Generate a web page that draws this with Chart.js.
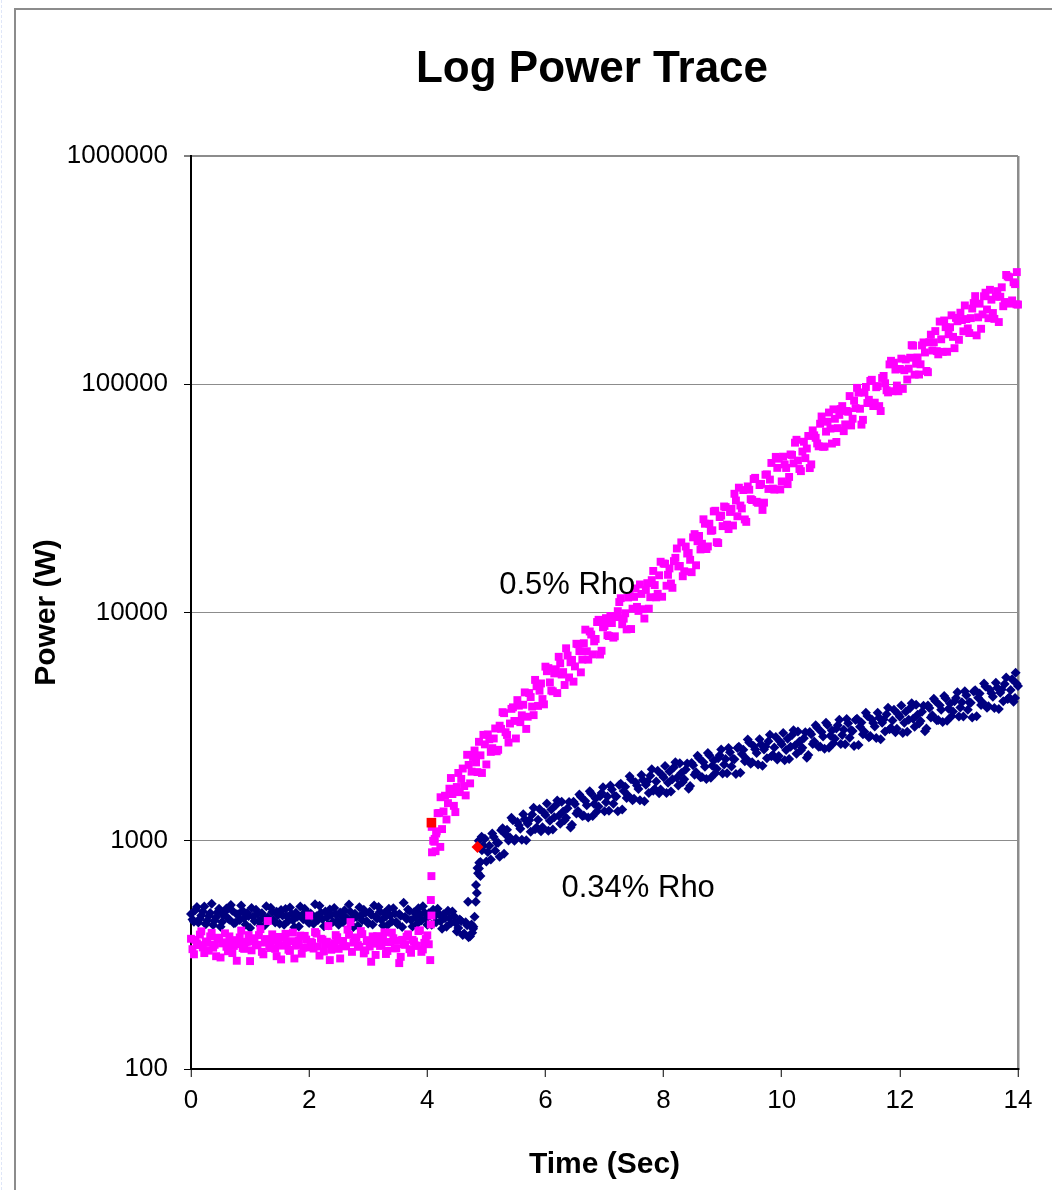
<!DOCTYPE html>
<html><head><meta charset="utf-8">
<script src="https://cdn.jsdelivr.net/npm/chart.js@4.4.1/dist/chart.umd.min.js"></script>
<style>
html,body{margin:0;padding:0;background:#fff;}
#wrap{position:relative;width:1052px;height:1190px;overflow:hidden;background:#fff;}
#frame{position:absolute;left:14px;top:8px;width:1100px;height:1300px;border-left:2px solid #8c8c8c;border-top:2px solid #8c8c8c;}
#guide{position:absolute;left:1px;top:0;height:1190px;border-left:1px dashed #dfe6f8;}
#c{position:absolute;left:0;top:0;}
</style></head><body>
<div id="wrap"><div id="guide"></div><div id="frame"></div><canvas id="c" width="1052" height="1190"></canvas></div>
<script>
const chartTitle = 'Log Power Trace';
const xTitle = 'Time (Sec)';
const yTitle = 'Power (W)';
const xTicks = [0, 2, 4, 6, 8, 10, 12, 14];
const yTicks = [100, 1000, 10000, 100000, 1000000];
const seriesNames = ['0.5% Rho', '0.34% Rho'];
const labelTime = [6.37, 7.57];
const labelPower = [13200, 615];

// sample times, pass A
const times = [
0,0.05,0.1,0.15,0.2,0.25,0.3,0.35,0.4,0.45,0.5,0.55,0.6,0.65,0.7,0.75,0.8,0.85,0.9,0.95,
1,1.05,1.1,1.15,1.2,1.25,1.3,1.35,1.4,1.45,1.5,1.55,1.6,1.65,1.7,1.75,1.8,1.85,1.9,1.95,
2,2.05,2.1,2.15,2.2,2.25,2.3,2.35,2.4,2.45,2.5,2.55,2.6,2.65,2.7,2.75,2.8,2.85,2.9,2.95,
3,3.05,3.1,3.15,3.2,3.25,3.3,3.35,3.4,3.45,3.5,3.55,3.6,3.65,3.7,3.75,3.8,3.85,3.9,3.95,
4,4.05,4.1,4.15,4.2,4.25,4.3,4.35,4.4,4.45,4.5,4.55,4.6,4.65,4.7,4.75,4.8,4.85,4.9,4.95,
5,5.05,5.1,5.15,5.2,5.25,5.3,5.35,5.4,5.45,5.5,5.55,5.6,5.65,5.7,5.75,5.8,5.85,5.9,5.95,
6,6.05,6.1,6.15,6.2,6.25,6.3,6.35,6.4,6.45,6.5,6.55,6.6,6.65,6.7,6.75,6.8,6.85,6.9,6.95,
7,7.05,7.1,7.15,7.2,7.25,7.3,7.35,7.4,7.45,7.5,7.55,7.6,7.65,7.7,7.75,7.8,7.85,7.9,7.95,
8,8.05,8.1,8.15,8.2,8.25,8.3,8.35,8.4,8.45,8.5,8.55,8.6,8.65,8.7,8.75,8.8,8.85,8.9,8.95,
9,9.05,9.1,9.15,9.2,9.25,9.3,9.35,9.4,9.45,9.5,9.55,9.6,9.65,9.7,9.75,9.8,9.85,9.9,9.95,
10,10.05,10.1,10.15,10.2,10.25,10.3,10.35,10.4,10.45,10.5,10.55,10.6,10.65,10.7,10.75,10.8,10.85,10.9,10.95,
11,11.05,11.1,11.15,11.2,11.25,11.3,11.35,11.4,11.45,11.5,11.55,11.6,11.65,11.7,11.75,11.8,11.85,11.9,11.95,
12,12.05,12.1,12.15,12.2,12.25,12.3,12.35,12.4,12.45,12.5,12.55,12.6,12.65,12.7,12.75,12.8,12.85,12.9,12.95,
13,13.05,13.1,13.15,13.2,13.25,13.3,13.35,13.4,13.45,13.5,13.55,13.6,13.65,13.7,13.75,13.8,13.85,13.9,13.95,
14];

// sample times, pass B
const times2 = [
0.025,0.075,0.125,0.175,0.225,0.275,0.325,0.375,0.425,0.475,0.525,0.575,0.625,0.675,0.725,0.775,0.825,0.875,0.925,0.975,
1.025,1.075,1.125,1.175,1.225,1.275,1.325,1.375,1.425,1.475,1.525,1.575,1.625,1.675,1.725,1.775,1.825,1.875,1.925,1.975,
2.025,2.075,2.125,2.175,2.225,2.275,2.325,2.375,2.425,2.475,2.525,2.575,2.625,2.675,2.725,2.775,2.825,2.875,2.925,2.975,
3.025,3.075,3.125,3.175,3.225,3.275,3.325,3.375,3.425,3.475,3.525,3.575,3.625,3.675,3.725,3.775,3.825,3.875,3.925,3.975,
4.025,4.075,4.125,4.175,4.225,4.275,4.325,4.375,4.425,4.475,4.525,4.575,4.625,4.675,4.725,4.775,4.825,4.875,4.925,4.975,
5.025,5.075,5.125,5.175,5.225,5.275,5.325,5.375,5.425,5.475,5.525,5.575,5.625,5.675,5.725,5.775,5.825,5.875,5.925,5.975,
6.025,6.075,6.125,6.175,6.225,6.275,6.325,6.375,6.425,6.475,6.525,6.575,6.625,6.675,6.725,6.775,6.825,6.875,6.925,6.975,
7.025,7.075,7.125,7.175,7.225,7.275,7.325,7.375,7.425,7.475,7.525,7.575,7.625,7.675,7.725,7.775,7.825,7.875,7.925,7.975,
8.025,8.075,8.125,8.175,8.225,8.275,8.325,8.375,8.425,8.475,8.525,8.575,8.625,8.675,8.725,8.775,8.825,8.875,8.925,8.975,
9.025,9.075,9.125,9.175,9.225,9.275,9.325,9.375,9.425,9.475,9.525,9.575,9.625,9.675,9.725,9.775,9.825,9.875,9.925,9.975,
10.025,10.075,10.125,10.175,10.225,10.275,10.325,10.375,10.425,10.475,10.525,10.575,10.625,10.675,10.725,10.775,10.825,10.875,10.925,10.975,
11.025,11.075,11.125,11.175,11.225,11.275,11.325,11.375,11.425,11.475,11.525,11.575,11.625,11.675,11.725,11.775,11.825,11.875,11.925,11.975,
12.025,12.075,12.125,12.175,12.225,12.275,12.325,12.375,12.425,12.475,12.525,12.575,12.625,12.675,12.725,12.775,12.825,12.875,12.925,12.975,
13.025,13.075,13.125,13.175,13.225,13.275,13.325,13.375,13.425,13.475,13.525,13.575,13.625,13.675,13.725,13.775,13.825,13.875,13.925,13.975];

// 0.5% Rho (magenta squares), pass A
const rho05 = [
372,318,355,388,341,362,330,395,350,376,308,359,343,381,322,367,352,404,336,361,
297,374,348,386,326,358,445,339,366,312,379,347,391,333,363,305,352,384,340,369,
470,357,398,344,372,327,361,300,349,386,336,364,345,408,440,358,377,343,390,331,
367,295,354,382,346,371,319,360,396,338,365,310,352,380,335,368,348,402,326,357,
385,300,1000,1076,1324,1125,1575,1461,1883,1422,1720,1633,2072,1580,2149,2008,2485,1999,2367,2910,
2159,2784,2544,3104,2503,3092,3623,2907,3263,3842,2806,3907,3545,4466,3495,4261,3551,4752,4543,4176,
5791,5707,4552,5408,4436,5990,5480,6968,5194,6199,5805,7265,5468,7335,6765,8258,6553,7656,9288,6796,
8734,7949,9660,7760,9549,11110,8879,9925,11639,8464,11707,10580,13270,10340,12553,10395,13859,13191,12078,16686,
16385,13100,15600,12828,17358,15913,20286,15155,18130,17015,21342,16101,21646,20011,24487,19474,22800,27724,20332,26192,
23905,28963,23199,28459,33123,26396,29418,34397,24948,34506,31097,38901,30232,36603,30290,40265,38223,34893,48061,47200,
37518,44533,36512,49257,45027,57108,42534,50722,47463,59349,44551,59717,55037,67135,53240,62020,75178,54978,70592,64226,
77875,62303,76354,88756,70634,78636,91846,66536,91919,82736,103385,80256,97058,80220,106515,101000,92097,126699,124294,98685,
116690,95409,128369,117031,148320,110159,131017,122268,152488,114374,152892,140534,170966,135203,157400,190275,138768,177702,161243,195382,
156494,191137,221423,175630,194832,226791,163760,225450,202236,251836,194744,234728,193368,255823,241794,219690,301169,294408,232920,274560,
223395];

// 0.5% Rho, pass B
const rho05b = [
335,368,349,401,322,357,381,340,312,372,355,393,328,364,346,298,377,339,359,386,
331,362,350,410,318,371,344,389,336,358,302,375,353,329,396,347,365,320,383,341,
360,337,392,314,369,352,423,333,356,378,305,362,345,387,326,370,349,402,321,363,
344,381,316,366,352,397,329,359,374,338,291,368,350,389,323,362,346,405,334,371,
352,1150,1019,1320,1551,1344,1239,1691,1602,1335,1982,1866,1737,2380,1784,2328,2204,2713,1981,2644,
2923,2451,2806,2465,3192,3659,2989,2693,3783,3349,4132,3308,3943,3090,4437,3871,5066,3898,4889,3959,
5532,4939,4514,5641,6396,5349,4812,6477,6054,4979,7294,6774,6220,8411,6216,8006,7475,9083,6544,8614,
9444,7884,8991,7866,10134,11551,9396,8434,11797,10389,12746,10159,12059,9409,13444,11667,15207,11651,14557,11724,
16348,14629,13400,16788,19075,15989,14416,19454,18222,15020,22053,20530,18894,25606,18970,24487,22916,27905,20152,26590,
29139,24253,27575,24054,30951,35233,28573,25574,35671,31372,38435,30551,36166,28145,40150,34775,45202,34536,43019,34598,
48168,42971,39239,49011,55466,46310,41626,55996,52290,42928,62780,58267,53461,72231,53296,68523,63934,77618,55879,73424,
80214,66692,75745,65996,84807,96426,78114,69836,97293,85465,104589,83037,98190,76322,108746,94083,122154,93218,115988,93178,
129477,115196,104905,130674,147630,123043,110300,147978,137815,112948,164890,152625,139661,188179,138613,177915,165548,200433,143910,188785,
205822,170543,193036,167614,214650,243240,196389,174976,242939,212624,259260,205155,241748,187270,265925,229245,296593,225544,279698,223923];

const rho05StepTime = [4.06, 4.06, 4.07, 4.07, 4.08, 4.12, 4.14, 4.16, 4.22, 13.98];
const rho05StepPower = [430, 550, 470, 700, 890, 990, 900, 1100, 940, 310000];
const rho05MarkTime = [4.07];
const rho05MarkPower = [1200];

// 0.34% Rho (navy diamonds), pass A
const rho034 = [
478,442,512,455,490,431,468,530,447,486,420,472,505,451,493,437,476,520,459,483,
415,466,498,444,481,426,462,509,450,488,433,471,502,446,479,418,464,515,453,491,
436,470,527,449,484,422,461,500,441,477,428,468,496,452,487,419,463,511,448,482,
434,474,520,456,489,425,466,503,443,480,431,469,535,454,492,421,462,506,447,485,
429,472,498,440,476,412,458,494,436,468,400,452,386,440,378,430,465,760,808,951,
812,950,1075,903,981,1113,878,1118,1034,1231,1021,1169,1010,1243,1187,1094,1394,1143,1378,1145,
1297,1106,1372,1268,1502,1186,1343,1261,1477,1176,1449,1351,1560,1290,1431,1647,1283,1530,1411,1619,
1347,1561,1747,1453,1562,1753,1369,1726,1578,1861,1528,1746,1505,1847,1759,1617,2059,1684,2025,1678,
1896,1618,2012,1861,2207,1745,1979,1860,2180,1738,2144,1997,2303,1904,2109,2424,1886,2247,2069,2372,
1970,2279,2547,2116,2273,2549,1988,2503,2288,2694,2209,2514,2160,2642,2509,2298,2915,2375,2847,2352,
2647,2254,2795,2580,3052,2408,2724,2556,2988,2376,2925,2721,3136,2589,2865,3289,2556,3042,2799,3203,
2657,3062,3413,2824,3024,3380,2627,3296,3002,3522,2877,3280,2822,3455,3285,3013,3826,3122,3745,3097,
3490,2968,3677,3391,4007,3157,3568,3344,3904,3102,3813,3550,4096,3385,3750,4310,3354,3996,3679,4216,
3503,4047,4520,3750,4024,4507,3511,4414,4029,4739,3882,4429,3815,4676,4449,4086,5193,4242,5096,4220,
4763];

// 0.34% Rho, pass B
const rho034b = [
452,497,438,471,515,446,483,427,462,504,441,489,458,523,435,476,449,494,430,468,
507,445,479,424,463,516,452,487,438,473,497,429,466,510,448,484,421,470,503,443,
480,433,467,519,454,490,426,474,508,447,485,439,461,525,452,479,424,471,499,444,
488,430,465,513,450,482,426,470,506,441,478,419,464,500,449,486,432,473,517,455,
481,428,468,503,444,476,420,459,490,437,415,445,392,426,382,412,640,755,909,1021,
893,828,1038,981,851,1134,1065,1002,1262,999,1207,1130,1305,1004,1229,1303,1124,1235,1101,1327,
1455,1225,1121,1430,1286,1483,1229,1388,1143,1483,1317,1595,1284,1495,1265,1611,1449,1345,1567,1717,
1476,1353,1678,1570,1348,1778,1651,1538,1917,1503,1805,1685,1941,1491,1820,1925,1658,1817,1616,1942,
2128,1795,1643,2100,1890,2183,1811,2050,1688,2193,1948,2356,1896,2205,1863,2369,2130,1974,2296,2513,
2156,1975,2445,2285,1960,2584,2397,2230,2777,2174,2604,2424,2782,2129,2591,2730,2344,2559,2269,2717,
2967,2497,2281,2907,2611,3008,2491,2812,2312,2996,2655,3209,2580,2998,2530,3213,2886,2671,3104,3392,
2903,2650,3270,3046,2604,3421,3162,2931,3638,2838,3395,3163,3636,2786,3394,3582,3077,3365,2986,3580,
3910,3287,3000,3819,3426,3942,3261,3677,3019,3909,3463,4190,3372,3922,3313,4214,3788,3510,4082,4469,
3833,3506,4337,4048,3469,4567,4230,3929,4888,3823,4583,4274,4918,3773,4600,4860,4180,4576,4066,4881];

const rho034StepTime = [4.69, 4.76, 4.78, 4.82, 4.84, 4.86, 4.87, 4.88, 4.9, 4.92, 13.96];
const rho034StepPower = [541, 395, 420, 540, 590, 720, 1000, 800, 700, 1040, 5450];
const rho034MarkTime = [4.85];
const rho034MarkPower = [940];

const FONT = "'Liberation Sans', Arial, Helvetica, sans-serif";
const PINK = '#FF00FF', NAVY = '#000080', RED = '#FF0000', GRID = '#8c8c8c';

function pts(xs, ys) { return xs.map((x, i) => ({ x: x, y: ys[i] })); }
function ds(name, data, color, style, r) {
  return { label: name, data: data, showLine: false, pointStyle: style, pointRadius: r, pointHoverRadius: r,
    pointBackgroundColor: color, pointBorderColor: color, pointBorderWidth: 0, clip: 8 };
}

const textPlugin = {
  id: 'texts',
  afterDraw(chart) {
    const ctx = chart.ctx;
    ctx.save();
    ctx.fillStyle = '#000';
    ctx.textAlign = 'center';
    ctx.textBaseline = 'middle';
    ctx.font = 'bold 44px ' + FONT;
    ctx.fillText(chartTitle, 592, 70);
    ctx.font = '31px ' + FONT;
    seriesNames.forEach((s, i) => {
      ctx.fillText(s, chart.scales.x.getPixelForValue(labelTime[i]), chart.scales.y.getPixelForValue(labelPower[i]));
    });
    ctx.restore();
  }
};

const pinkData = pts(times, rho05).concat(pts(times2, rho05b), pts(rho05StepTime, rho05StepPower));
const navyData = pts(times, rho034).concat(pts(times2, rho034b), pts(rho034StepTime, rho034StepPower));

new Chart(document.getElementById('c'), {
  type: 'scatter',
  data: {
    datasets: [
      ds(seriesNames[0] + ' mark', pts(rho05MarkTime, rho05MarkPower), RED, 'rect', 6.8),
      ds(seriesNames[1] + ' mark', pts(rho034MarkTime, rho034MarkPower), RED, 'rectRot', 6),
      ds(seriesNames[0], pinkData, PINK, 'rect', 5.6),
      ds(seriesNames[1], navyData, NAVY, 'rectRot', 5)
    ]
  },
  options: {
    responsive: false,
    animation: false,
    devicePixelRatio: 1,
    layout: { padding: { left: 0, right: 34, top: 156, bottom: 0 } },
    plugins: { legend: { display: false }, tooltip: { enabled: false }, title: { display: false } },
    scales: {
      x: {
        type: 'linear', min: 0, max: 14,
        afterBuildTicks: s => { s.ticks = xTicks.map(v => ({ value: v })); },
        afterFit: s => { s.height = 121; },
        ticks: { font: { family: FONT, size: 26 }, color: '#000', padding: 8, autoSkip: false, maxRotation: 0 },
        grid: { color: c => (c.tick && c.tick.value === 14) ? GRID : 'rgba(0,0,0,0)', lineWidth: 2.5,
                tickColor: '#000', tickLength: 8, tickWidth: 1 },
        border: { display: true, color: '#000', width: 2 },
        title: { display: true, text: xTitle, color: '#000', font: { family: FONT, size: 30, weight: 'bold' }, padding: { top: 0, bottom: 7 } }
      },
      y: {
        type: 'logarithmic', min: 100, max: 1000000,
        afterBuildTicks: s => { s.ticks = yTicks.map(v => ({ value: v })); },
        afterFit: s => { s.width = 191; },
        ticks: { callback: v => String(v), font: { family: FONT, size: 26 }, color: '#000', padding: 16, autoSkip: false },
        grid: { color: c => (c.tick && c.tick.value === 100) ? 'rgba(0,0,0,0)' : GRID,
                lineWidth: c => (c.tick && c.tick.value === 1000000) ? 2 : 1,
                tickColor: '#000', tickLength: 7, tickWidth: 1 },
        border: { display: true, color: '#000', width: 2 },
        title: { display: true, text: yTitle, color: '#000', font: { family: FONT, size: 30, weight: 'bold' }, padding: { top: 29, bottom: 0 } }
      }
    }
  },
  plugins: [textPlugin]
});
</script>
</body></html>
